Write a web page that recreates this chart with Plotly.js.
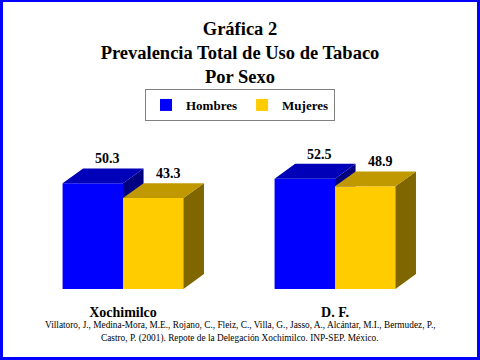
<!DOCTYPE html>
<html><head><meta charset="utf-8">
<script src="https://cdn.plot.ly/plotly-3.0.1.min.js"></script>
<style>
html,body{margin:0;padding:0;background:#fff;}
#wrap{position:relative;width:480px;height:360px;}
#frame{position:absolute;left:0;top:0;width:480px;height:360px;box-sizing:border-box;border:3px solid #0000FF;border-top-width:2px;pointer-events:none;}
</style>
</head><body>
<div id="wrap"><div id="chart" style="width:480px;height:360px"></div><div id="frame"></div></div>
<script>
// ---- data ----
const categories = ['Xochimilco', 'D. F.'];
const seriesNames = ['Hombres', 'Mujeres'];
const hombres = [50.3, 52.5];
const mujeres = [43.3, 48.9];
const titleText = 'Gráfica 2<br>Prevalencia Total de Uso de Tabaco<br>Por Sexo';
const sourceLines = [
  'Villatoro, J., Medina-Mora, M.E., Rojano, C., Fleiz, C., Villa, G., Jasso, A., Alcántar, M.I., Bermudez, P.,',
  'Castro, P. (2001). Repote de la Delegación Xochimilco. INP-SEP. México.'
];

// ---- style / geometry ----
const FW = 480, FH = 360, ML = 17, MR = 39, MT = 120, MB = 71;
const PW = FW - ML - MR, PH = FH - MT - MB;
const W = 0.285;     // bar width (x units)
const DX = 0.097;    // 3D depth in x units
const DY = 7.1;      // 3D depth in y units
const FONT = 'Liberation Serif';
const colors = {
  front: ['#0000FF', '#FFCC00'],
  top:   ['#0000B8', '#C09900'],
  side:  ['#000080', '#806600']
};
const pos = categories.map((c, i) => i);
const series = [hombres, mujeres];
const offsets = [-W, 0];

const traces = [];
// front faces as bars
series.forEach((vals, s) => {
  traces.push({
    type: 'bar', x: pos, y: vals, name: seriesNames[s],
    offset: offsets[s], width: W,
    marker: {color: colors.front[s], line: {width: 0}},
    hoverinfo: 'skip'
  });
});
// side and top faces
series.forEach((vals, s) => {
  const sx = [], sy = [], tx = [], ty = [];
  vals.forEach((h, i) => {
    const x0 = pos[i] + offsets[s], x1 = x0 + W;
    const next = series[s + 1];
    const lower = next ? Math.max(next[i], 0) : 0;
    if (lower < h) {
      sx.push(x1, x1, x1 + DX, x1 + DX, x1, null);
      sy.push(lower, h, h + DY, Math.max(lower, DY), lower, null);
    }
    tx.push(x0, x1, x1 + DX, x0 + DX, x0, null);
    ty.push(h, h, h + DY, h + DY, h, null);
  });
  traces.push({type: 'scatter', mode: 'none', fill: 'toself', x: sx, y: sy,
    fillcolor: colors.side[s], showlegend: false, hoverinfo: 'skip'});
  traces.push({type: 'scatter', mode: 'none', fill: 'toself', x: tx, y: ty,
    fillcolor: colors.top[s], showlegend: false, hoverinfo: 'skip'});
});

const annotations = [];
series.forEach((vals, s) => {
  vals.forEach((h, i) => {
    annotations.push({
      x: pos[i] + offsets[s] + W / 2 + DX * 0.72, y: h + DY,
      xref: 'x', yref: 'y', text: h.toFixed(1), showarrow: false,
      xanchor: 'center', yanchor: 'bottom',
      font: {family: FONT, size: 14, weight: 'bold', color: '#000'}
    });
  });
});
const pxX = px => (px - ML) / PW;
const pxY = py => (FH - MB - py) / PH;
const sourceY = [325, 339];
sourceLines.forEach((t, k) => {
  annotations.push({
    xref: 'paper', yref: 'paper', x: pxX(240), y: pxY(sourceY[k]),
    xanchor: 'center', yanchor: 'middle', showarrow: false,
    text: t, font: {family: FONT, size: 9.3, color: '#000'}
  });
});

const layout = {
  width: FW, height: FH,
  margin: {l: ML, r: MR, t: MT, b: MB, pad: 0},
  paper_bgcolor: '#FFFFFF', plot_bgcolor: 'rgba(0,0,0,0)',
  barmode: 'overlay',
  title: {
    text: titleText, x: 0.5, xref: 'container', xanchor: 'center',
    y: 1 - 35 / FH, yref: 'container', yanchor: 'top',
    font: {family: FONT, size: 18.5, weight: 'bold', color: '#000'}
  },
  xaxis: {
    range: [-0.5, 1.5], tickmode: 'array', tickvals: pos, ticktext: categories,
    showgrid: false, zeroline: false, showline: false, ticks: '',
    ticklabelstandoff: 13,
    tickfont: {family: FONT, size: 14, weight: 'bold', color: '#000'}
  },
  yaxis: {range: [0, 80], visible: false, showgrid: false, zeroline: false},
  showlegend: true,
  legend: {
    orientation: 'h', x: 0.5, xref: 'container', xanchor: 'center',
    y: 1 - 89 / FH, yref: 'container', yanchor: 'top',
    bordercolor: '#808080', borderwidth: 1, bgcolor: '#FFFFFF',
    font: {family: FONT, size: 13, weight: 'bold', color: '#000'},
    itemclick: false, itemdoubleclick: false
  },
  annotations: annotations
};

Plotly.newPlot('chart', traces, layout, {displayModeBar: false, staticPlot: true});
</script>
</body></html>
